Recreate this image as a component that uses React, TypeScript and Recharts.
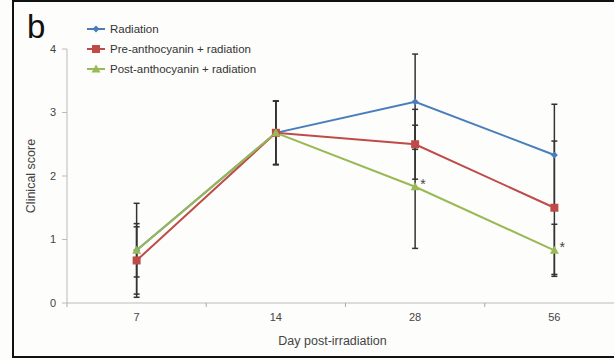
import React from 'react';
import { LineChart, Line, XAxis, YAxis, ErrorBar, LabelList } from 'recharts';

const days = ['7', '14', '28', '56'];
const radiation = [0.83, 2.68, 3.17, 2.33];
const radiationErr = [0.74, 0.5, 0.75, 0.8];
const preAnthocyanin = [0.67, 2.68, 2.5, 1.5];
const preAnthocyaninErr = [0.53, 0.5, 0.55, 1.05];
const postAnthocyanin = [0.83, 2.68, 1.83, 0.83];
const postAnthocyaninErr = [0.42, 0.5, 0.97, 0.41];
const postMarks = ['', '', '*', '*'];
const yTicks = [0, 1, 2, 3, 4];

const seriesNames = ['Radiation', 'Pre-anthocyanin + radiation', 'Post-anthocyanin + radiation'];
const BLUE = '#4a7ebb';
const RED = '#be4b48';
const GREEN = '#98b954';
const FONT = '"Liberation Sans", Arial, sans-serif';

const data = days.map((d, i) => ({
  day: d,
  rad: radiation[i],
  radErr: radiationErr[i],
  pre: preAnthocyanin[i],
  preErr: preAnthocyaninErr[i],
  post: postAnthocyanin[i],
  postErr: postAnthocyaninErr[i],
  mark: postMarks[i],
}));

const Diamond = (props: any) => {
  const { cx, cy, fill } = props;
  if (cx == null || cy == null) return null;
  const r = 3.5;
  return <polygon points={`${cx},${cy - r} ${cx + r},${cy} ${cx},${cy + r} ${cx - r},${cy}`} fill={fill} />;
};
const Square = (props: any) => {
  const { cx, cy, fill } = props;
  if (cx == null || cy == null) return null;
  const s = 4;
  return <rect x={cx - s} y={cy - s} width={s * 2} height={s * 2} fill={fill} />;
};
const Triangle = (props: any) => {
  const { cx, cy, fill } = props;
  if (cx == null || cy == null) return null;
  const r = 4.5;
  return <polygon points={`${cx},${cy - r} ${cx + r},${cy + r * 0.75} ${cx - r},${cy + r * 0.75}`} fill={fill} />;
};

const markerFor = (i: number, cx: number, cy: number) => {
  if (i === 0) return <Diamond cx={cx} cy={cy} fill={BLUE} />;
  if (i === 1) return <Square cx={cx} cy={cy} fill={RED} />;
  return <Triangle cx={cx} cy={cy} fill={GREEN} />;
};

const XTick = (props: any) => {
  const { x, y, payload } = props;
  const off = payload && payload.offset ? payload.offset : 0;
  return (
    <g>
      {off ? <line x1={x - off} x2={x - off} y1={y - 8} y2={y - 4} stroke="#aaa" /> : null}
      <text x={x} y={y + 10} textAnchor="middle" fontSize={11} fill="#444" fontFamily={FONT}>
        {payload.value}
      </text>
    </g>
  );
};

const YLabel = (props: any) => {
  const { viewBox } = props;
  const cy = viewBox.y + viewBox.height / 2;
  return (
    <text x={35} y={cy} transform={`rotate(-90, 35, ${cy})`} textAnchor="middle" fontSize={12.5} fill="#444" fontFamily={FONT}>
      Clinical score
    </text>
  );
};

const XLabel = (props: any) => {
  const { viewBox } = props;
  const cx = viewBox.x + viewBox.width / 2 - 13;
  return (
    <text x={cx} y={viewBox.y + 42} textAnchor="middle" fontSize={12.5} fill="#444" fontFamily={FONT}>
      Day post-irradiation
    </text>
  );
};

const StarLabel = (props: any) => {
  const { x, y, index } = props;
  const m = postMarks[index];
  if (!m) return null;
  return (
    <text x={x + 5} y={y + 2} fontSize={14} fill="#444" fontFamily={FONT}>
      {m}
    </text>
  );
};

const colors = [BLUE, RED, GREEN];

export default function App() {
  return (
    <div style={{ position: 'absolute', left: 0, top: 0, width: 614, height: 360, background: '#fdfdfb' }}>
      <div style={{ position: 'absolute', left: 12, top: 0, width: 2, height: 358, background: '#111' }} />
      <div style={{ position: 'absolute', left: 12, top: 0, width: 602, height: 2, background: '#111' }} />
      <div style={{ position: 'absolute', left: 12, top: 356, width: 602, height: 2, background: '#111' }} />
      <div style={{ position: 'absolute', left: 27, top: 7, fontSize: 33, fontFamily: FONT, color: '#111', lineHeight: '40px' }}>b</div>
      <div style={{ position: 'absolute', left: 0, top: 0 }}>
        <LineChart width={614} height={360} data={data} margin={{ top: 49, right: -10, bottom: 0, left: 0 }}>
          <XAxis
            dataKey="day"
            scale="band"
            height={57}
            axisLine={{ stroke: '#bbb' }}
            tickLine={false}
            tick={<XTick />}
            label={<XLabel />}
          />
          <YAxis
            width={67}
            domain={[0, 4]}
            ticks={yTicks}
            axisLine={{ stroke: '#bbb' }}
            tickLine={{ stroke: '#bbb' }}
            tickSize={5}
            tickMargin={6}
            tick={{ fontSize: 11, fill: '#444', fontFamily: FONT }}
            label={<YLabel />}
          />
          <Line dataKey="rad" name={seriesNames[0]} stroke={BLUE} strokeWidth={2} dot={<Diamond fill={BLUE} />} isAnimationActive={false}>
            <ErrorBar dataKey="radErr" width={3} stroke="#333" strokeWidth={1.5} />
          </Line>
          <Line dataKey="pre" name={seriesNames[1]} stroke={RED} strokeWidth={2} dot={<Square fill={RED} />} isAnimationActive={false}>
            <ErrorBar dataKey="preErr" width={3} stroke="#333" strokeWidth={1.5} />
          </Line>
          <Line dataKey="post" name={seriesNames[2]} stroke={GREEN} strokeWidth={2} dot={<Triangle fill={GREEN} />} isAnimationActive={false}>
            <ErrorBar dataKey="postErr" width={3} stroke="#333" strokeWidth={1.5} />
            <LabelList dataKey="mark" content={<StarLabel />} />
          </Line>
        </LineChart>
      </div>
      <div style={{ position: 'absolute', left: 86, top: 19, fontFamily: FONT, fontSize: 11.5, color: '#333' }}>
        {seriesNames.map((n, i) => (
          <div key={n} style={{ display: 'flex', alignItems: 'center', height: 20 }}>
            <svg width={20} height={12} style={{ marginRight: 4 }}>
              <line x1={1} x2={19} y1={6} y2={6} stroke={colors[i]} strokeWidth={2} />
              {markerFor(i, 10, 6)}
            </svg>
            <span>{n}</span>
          </div>
        ))}
      </div>
    </div>
  );
}
